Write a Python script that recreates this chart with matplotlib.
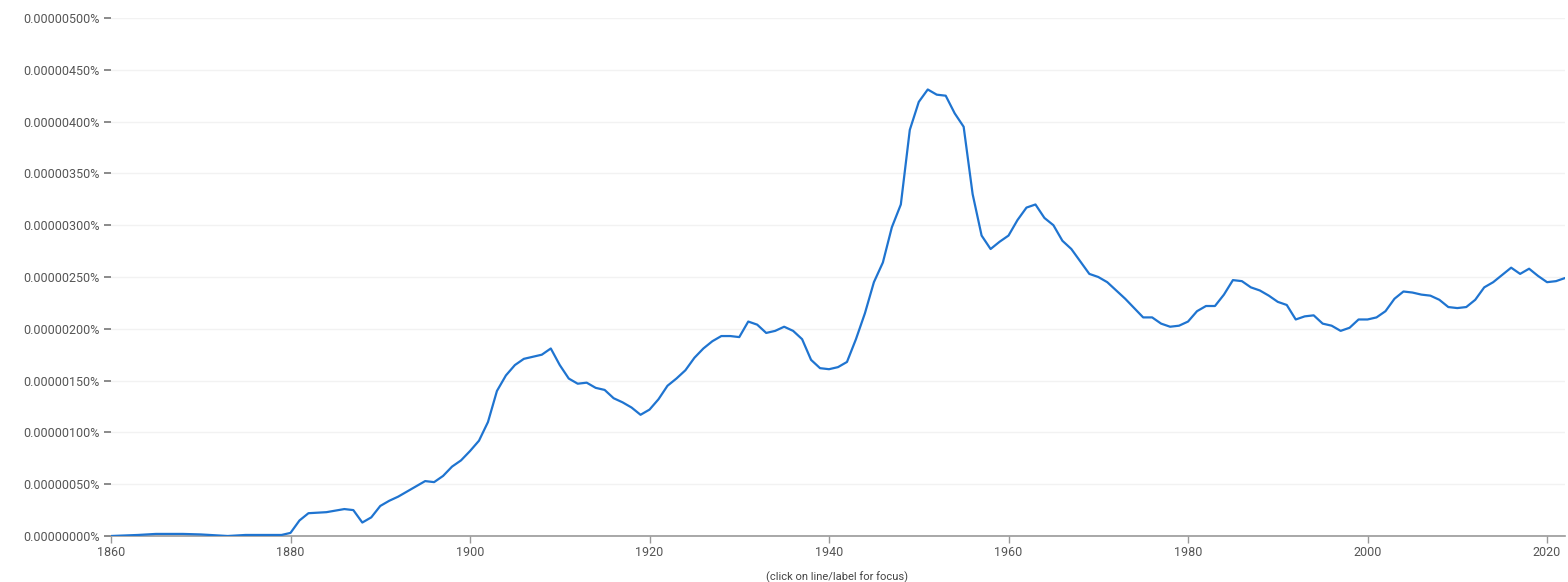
import matplotlib
matplotlib.use("Agg")
import matplotlib.pyplot as plt
from matplotlib.ticker import FuncFormatter

plt.rcParams['font.family'] = ['Roboto', 'DejaVu Sans']

# frequency in units of 1e-8 percent
years = list(range(1860, 2023))
freq = [
    0, 0.3, 0.5, 1, 1.5, 2, 2, 2, 2, 1.8,
    1.5, 1, 0.5, 0, 0.5, 1, 1, 1, 1, 1,
    3, 15, 22, 22.5, 23, 24.5, 26, 25, 13, 18,
    29, 34, 38, 43, 48, 53, 52, 58, 67, 73,
    82, 92, 110, 140, 155, 165, 171, 173, 175, 181,
    165, 152, 147, 148, 143, 141, 133, 129, 124, 117,
    122, 132, 145, 152, 160, 172, 181, 188, 193, 193,
    192, 207, 204, 196, 198, 202, 198, 190, 170, 162,
    161, 163, 168, 190, 215, 245, 264, 298, 320, 392,
    419, 431, 426, 425, 408, 395, 330, 290, 277, 284,
    290, 305, 317, 320, 307, 300, 285, 277, 265, 253,
    250, 245, 237, 229, 220, 211, 211, 205, 202, 203,
    207, 217, 222, 222, 233, 247, 246, 240, 237, 232,
    226, 223, 209, 212, 213, 205, 203, 198, 201, 209,
    209, 211, 217, 229, 236, 235, 233, 232, 228, 221,
    220, 221, 228, 240, 245, 252, 259, 253, 258, 251,
    245, 246, 249,
]

yticks = [0, 50, 100, 150, 200, 250, 300, 350, 400, 450, 500]
xticks = [1860, 1880, 1900, 1920, 1940, 1960, 1980, 2000, 2020]

W, H = 1568, 582
fig = plt.figure(figsize=(W / 100, H / 100), dpi=100)
ax = fig.add_axes([111 / W, 46 / H, (1565 - 111) / W, (536 - 18) / H])

ax.plot(years, freq, color='#1f74d0', linewidth=1.6, solid_joinstyle='round',
        solid_capstyle='round', zorder=3)

ax.set_xlim(1860, 2022)
ax.set_ylim(0, 500)
ax.set_xticks(xticks)
ax.set_yticks(yticks)
ax.yaxis.set_major_formatter(FuncFormatter(lambda v, p: f"{v * 1e-8:.8f}%"))

ax.grid(axis='y', color='#f2f2f2', linewidth=1, zorder=0)
for s in ['top', 'right', 'left']:
    ax.spines[s].set_visible(False)
ax.spines['bottom'].set_color('#999999')
ax.spines['bottom'].set_linewidth(1.2)

ax.tick_params(axis='y', length=5, width=1.2, color='#777777', pad=3,
               labelsize=9, labelcolor='#555555')
ax.tick_params(axis='x', length=5, width=1, color='#999999', pad=2,
               labelsize=9, labelcolor='#555555')

fig.text(837 / W, 1 - 577 / H, '(click on line/label for focus)',
         ha='center', va='center', fontsize=8, color='#444444')

fig.savefig('out.png', dpi=100, facecolor='white')
